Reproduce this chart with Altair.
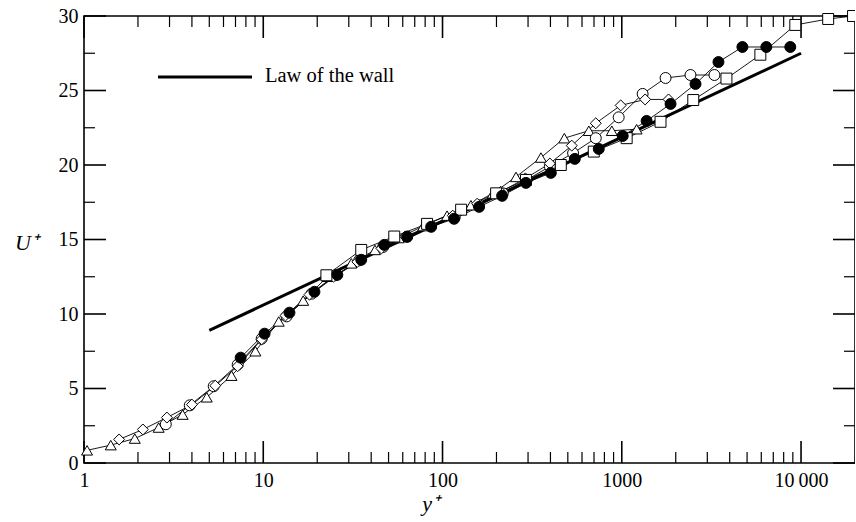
import altair as alt
import pandas as pd

# ---------------- data ----------------
tri_yp = [1.04, 1.41, 1.92, 2.61, 3.55, 4.84, 6.65, 9.04, 12.2, 16.7, 22.8, 31, 42, 57,
          78, 106, 144, 191, 257, 354, 478, 655, 880, 1210]
tri_u = [0.85, 1.2, 1.64, 2.38, 3.25, 4.41, 5.86, 7.5, 9.5, 10.9, 12.5, 13.4, 14.3, 15.1,
         15.9, 16.6, 17.3, 18.1, 19.2, 20.5, 21.8, 22.3, 22.3, 22.4]

oc_yp = [2.86, 3.89, 5.29, 7.2, 9.8, 13.5, 18.6, 25.3, 34.3, 46.6, 63.5, 86.4, 117, 159,
         217, 295, 397, 535, 716, 961, 1307, 1755, 2417, 3288]
oc_u = [2.6, 3.87, 5.15, 6.6, 8.34, 9.84, 11.36, 12.6, 13.6, 14.5, 15.2, 15.9, 16.5, 17.3,
        18.1, 19.0, 19.9, 20.8, 21.8, 23.2, 24.77, 25.84, 26.04, 26.04]

dia_yp = [1.57, 2.13, 2.9, 4.0, 5.4, 7.2, 9.8, 13.3, 18.1, 24.6, 33.5, 45.6, 62, 84, 114,
          156, 211, 290, 397, 526, 716, 986, 1350, 1823]
dia_u = [1.58, 2.25, 3.05, 3.92, 5.19, 6.5, 8.3, 9.9, 11.3, 12.5, 13.5, 14.4, 15.2, 15.9,
         16.6, 17.4, 18.2, 19.1, 20.1, 21.3, 22.8, 24.0, 24.4, 24.4]

sq_yp = [22.5, 35.2, 53.8, 82, 127, 199, 292, 457, 698, 1065, 1645, 2505, 3836, 5930,
         9290, 14170, 19500]
sq_u = [12.6, 14.3, 15.2, 16.05, 17.0, 18.1, 19.0, 20.0, 20.9, 21.8, 22.9, 24.36, 25.8,
        27.4, 29.4, 29.8, 30.0]

fc_yp = [7.48, 10.17, 14.0, 19.3, 25.9, 35.2, 47.3, 63.5, 86.4, 116, 160, 215, 292, 402,
         547, 744, 1012, 1376, 1871, 2578, 3462, 4708, 6403, 8709]
fc_u = [7.07, 8.68, 10.09, 11.49, 12.63, 13.64, 14.64, 15.18, 15.85, 16.39, 17.19, 17.93,
        18.8, 19.47, 20.41, 21.08, 21.95, 22.96, 24.1, 25.44, 26.91, 27.92, 27.92, 27.92]

law_yp = [5, 10000]
law_u = [8.9, 27.5]
legend_label = ["Law of the wall"]

x_major = [1, 10, 100, 1000, 10000]
x_minor = [2, 3, 4, 5, 6, 7, 8, 9, 20, 30, 40, 50, 60, 70, 80, 90,
           200, 300, 400, 500, 600, 700, 800, 900,
           2000, 3000, 4000, 5000, 6000, 7000, 8000, 9000]
y_major = [0, 5, 10, 15, 20, 25, 30]
y_minor = [2.5, 7.5, 12.5, 17.5, 22.5, 27.5]

series_names = ["tri", "ocirc", "dia", "sq", "fcirc"]
series_shapes = ["triangle-up", "circle", "diamond", "square", "circle"]
series_fills = ["white", "white", "white", "white", "black"]

# ---------------- build tables ----------------
frames = []
for name, xp, uu in [("tri", tri_yp, tri_u), ("ocirc", oc_yp, oc_u), ("dia", dia_yp, dia_u),
                     ("sq", sq_yp, sq_u), ("fcirc", fc_yp, fc_u)]:
    frames.append(pd.DataFrame({"yp": xp, "u": uu, "s": name}))
df = pd.concat(frames, ignore_index=True)
law_df = pd.DataFrame({"yp": law_yp, "u": law_u})

W, H = 771, 447
MAJ, MIN = 22, 11
FONT = "Liberation Serif"

xs = alt.Scale(type="log", domain=[1, 20000], nice=False)
ys = alt.Scale(domain=[0, 30], nice=False, zero=False)

x_axis = alt.Axis(values=x_major, ticks=False, domain=False, grid=False,
                  labelExpr="datum.value == 10000 ? '10\u2009000' : format(datum.value, 'd')",
                  labelFont=FONT, labelFontSize=20, labelColor="black", labelPadding=7,
                  labelFlush=False, labelOverlap=False,
                  title="y\u207a", titleFont=FONT, titleFontSize=22, titleFontStyle="italic",
                  titleFontWeight="normal", titleColor="black",
                  titleX=346, titleY=47, titleBaseline="alphabetic", titleAlign="center")
y_axis = alt.Axis(values=y_major, ticks=False, domain=False, grid=False,
                  labelFont=FONT, labelFontSize=20, labelColor="black", labelPadding=6,
                  labelFlush=False, labelOverlap=False,
                  title="U\u207a", titleFont=FONT, titleFontSize=22, titleFontStyle="italic",
                  titleFontWeight="normal", titleColor="black", titleAngle=0,
                  titleX=-58, titleY=226, titleAlign="center", titleBaseline="middle")

law = alt.Chart(law_df).mark_line(color="black", strokeWidth=3).encode(
    x=alt.X("yp:Q", scale=xs, axis=x_axis),
    y=alt.Y("u:Q", scale=ys, axis=y_axis),
)

lines = alt.Chart(df).mark_line(color="black", strokeWidth=0.9).encode(
    x=alt.X("yp:Q", scale=xs, axis=x_axis),
    y=alt.Y("u:Q", scale=ys, axis=y_axis),
    detail="s:N",
)

points = alt.Chart(df).mark_point(filled=True, stroke="black", strokeWidth=1,
                                   opacity=1, fillOpacity=1, size=120).encode(
    x=alt.X("yp:Q", scale=xs, axis=x_axis),
    y=alt.Y("u:Q", scale=ys, axis=y_axis),
    shape=alt.Shape("s:N", scale=alt.Scale(domain=series_names, range=series_shapes), legend=None),
    fill=alt.Fill("s:N", scale=alt.Scale(domain=series_names, range=series_fills), legend=None),
)


def xticks(vals, length, top, sw):
    d = pd.DataFrame({"v": vals})
    y0, y1 = (0, length) if top else (H, H - length)
    return alt.Chart(d).mark_rule(color="black", strokeWidth=sw).encode(
        x=alt.X("v:Q", scale=xs, axis=x_axis), y=alt.value(y0), y2=alt.value(y1))


def yticks(vals, length, right, sw):
    d = pd.DataFrame({"v": vals})
    x0, x1 = (W, W - length) if right else (0, length)
    return alt.Chart(d).mark_rule(color="black", strokeWidth=sw).encode(
        y=alt.Y("v:Q", scale=ys, axis=y_axis), x=alt.value(x0), x2=alt.value(x1))


ticks = [
    xticks(x_major, MAJ, False, 1.6), xticks(x_minor, MIN, False, 1.2),
    xticks(x_major, MAJ, True, 1.6), xticks(x_minor, MIN, True, 1.2),
    yticks(y_major, MAJ, False, 1.6), yticks(y_minor, MIN, False, 1.2),
    yticks(y_major, MAJ, True, 1.6), yticks(y_minor, MIN, True, 1.2),
]

leg_df = pd.DataFrame({"label": legend_label})
leg_line = alt.Chart(leg_df).mark_rule(color="black", strokeWidth=3).encode(
    x=alt.value(74), x2=alt.value(168), y=alt.value(61))
leg_text = alt.Chart(leg_df).mark_text(font=FONT, fontSize=20.5, align="left",
                                       baseline="middle", color="black").encode(
    x=alt.value(181), y=alt.value(60), text="label:N")

chart = alt.layer(law, *ticks, lines, points, leg_line, leg_text).properties(
    width=W, height=H,
    autosize=alt.AutoSizeParams(type="none"),
    padding={"left": 84, "top": 16, "right": 0, "bottom": 58},
    background="white",
).configure_view(stroke="black", strokeWidth=1.6)

chart.save("out.html", embed_options={"renderer": "svg", "actions": False})
